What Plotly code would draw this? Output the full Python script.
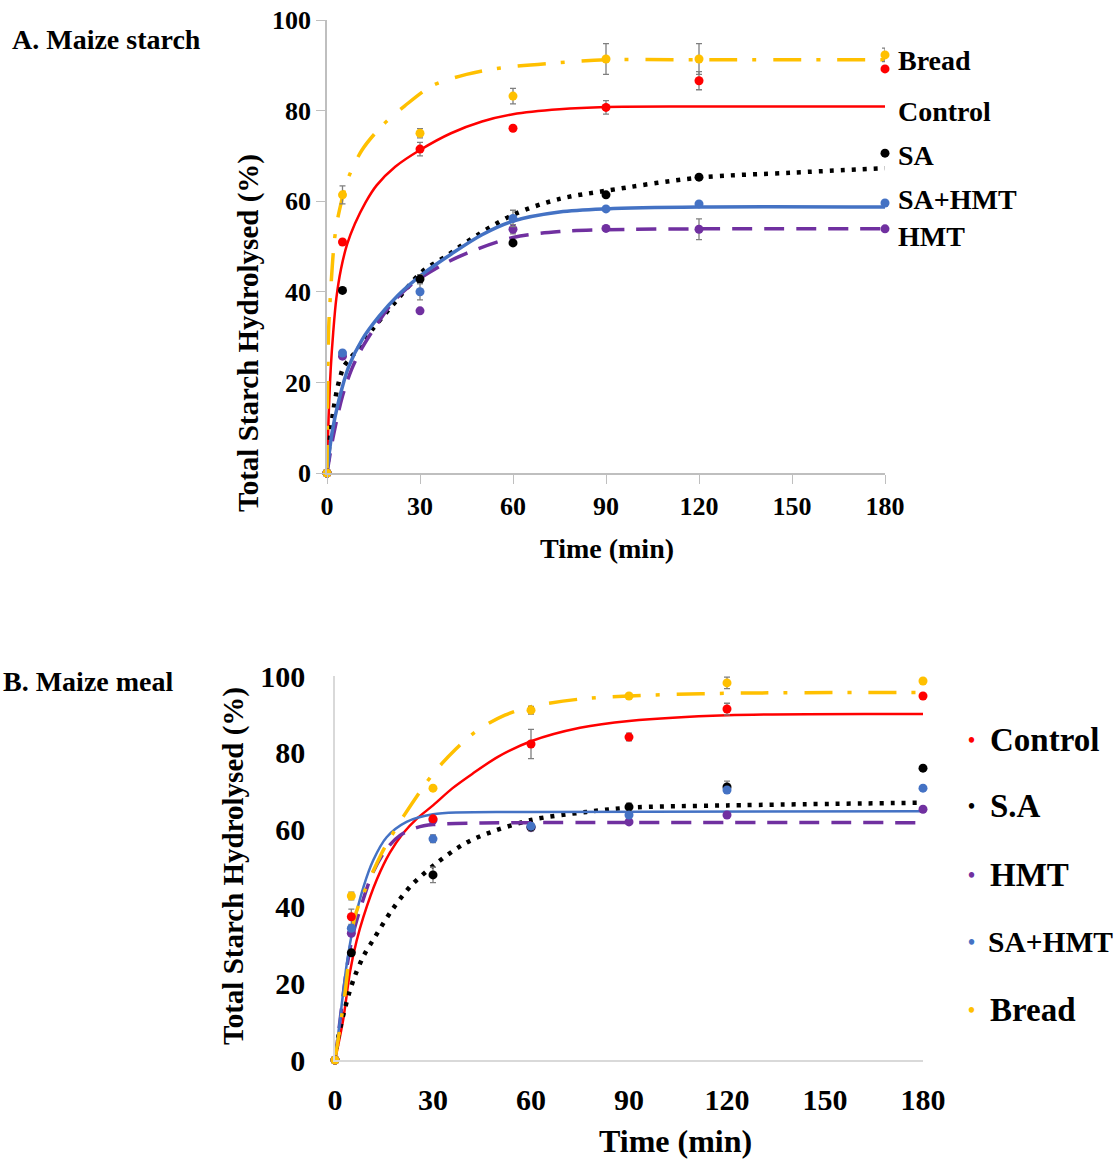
import plotly.graph_objects as go

# ---------------- data ----------------
times = [0, 5, 30, 60, 90, 120, 180]
series = ["Control", "SA", "HMT", "SA+HMT", "Bread"]
marker_order = ["HMT", "SA", "Control", "SA+HMT", "Bread"]
colors = {"Control": "#FF0000", "SA": "#000000", "HMT": "#7030A0",
          "SA+HMT": "#4472C4", "Bread": "#FFC000"}

# A. Maize starch - measured points and error bars
starch_control = [0, 51.0, 71.5, 76.1, 80.7, 86.6, 89.2]
starch_control_err = [0, 0, 1.5, 0, 1.5, 2.0, 0]
starch_sa = [0, 40.3, 42.8, 50.8, 61.4, 65.3, 70.6]
starch_sa_err = [0, 0, 1.0, 0, 0, 0, 0]
starch_hmt = [0, 25.8, 35.8, 53.8, 54.0, 53.8, 53.9]
starch_hmt_err = [0, 0, 0, 1.0, 0, 2.3, 0]
starch_sahmt = [0, 26.5, 40.0, 56.2, 58.3, 59.4, 59.6]
starch_sahmt_err = [0, 0, 1.8, 1.8, 0, 0, 0]
starch_bread = [0, 61.4, 75.0, 83.2, 91.4, 91.4, 92.3]
starch_bread_err = [0, 2.0, 1.0, 1.7, 3.4, 3.4, 1.5]

# A. Maize starch - fitted hydrolysis curves
starch_control_fit_t = [0, 0.5, 1.2, 2, 3, 4.5, 6.5, 9, 12.4, 16, 22, 30, 40, 50, 60, 75, 90, 120, 180]
starch_control_fit = [0, 12, 23, 31, 38.5, 45, 50.5, 55, 59.7, 63.5, 67.6, 71.3, 75, 77.6, 79.2, 80.3, 80.8, 80.9, 80.9]
starch_sa_fit_t = [0, 1.1, 2.1, 3.2, 4.3, 5.4, 7.5, 10, 14.5, 22.6, 30.6, 39, 45, 60, 75, 90, 120, 150, 180]
starch_sa_fit = [0, 8.8, 14, 18.3, 21.3, 23.5, 25.3, 27.5, 31.6, 38.2, 44.4, 48.1, 51, 57, 60.5, 62.3, 65.2, 66.3, 67.3]
starch_hmt_fit_t = [0, 2, 5, 8, 11.3, 15.6, 21, 27, 36, 45, 60, 75, 90, 120, 180]
starch_hmt_fit = [0, 8, 17, 23, 27.6, 32.3, 37.5, 41.5, 45.5, 48.5, 52, 53.3, 53.7, 53.9, 53.9]
starch_sahmt_fit_t = [0, 1.6, 3.8, 7, 11.3, 16.7, 23, 30.6, 40, 50, 60, 75, 90, 120, 180]
starch_sahmt_fit = [0, 8.8, 16, 23.5, 29.4, 34.5, 39.3, 43.8, 48.3, 52.6, 55.6, 57.6, 58.3, 58.7, 58.7]
starch_bread_fit_t = [0, 0.5, 1, 2.5, 4, 6.8, 11.3, 17.7, 25, 34, 45, 56, 77, 90, 120, 180]
starch_bread_fit = [0, 31, 38, 52, 58, 65, 71.3, 76.6, 81, 85.5, 88, 89.4, 90.7, 91.2, 91.2, 91.2]

# B. Maize meal - measured points and error bars
meal_control = [0, 37.3, 62.8, 82.3, 84.1, 91.4, 94.8]
meal_control_err = [0, 2.0, 0, 3.8, 1.0, 1.5, 0]
meal_sa = [0, 27.9, 48.2, 60.7, 65.9, 71.1, 76.0]
meal_sa_err = [0, 0, 2.0, 1.0, 1.0, 1.5, 0]
meal_hmt = [0, 33.0, 62.5, 60.5, 62.0, 63.8, 65.3]
meal_hmt_err = [0, 0, 0, 0, 0, 0, 0]
meal_sahmt = [0, 34.3, 57.6, 60.9, 63.8, 70.3, 70.8]
meal_sahmt_err = [0, 0, 1.0, 0, 0, 0, 0]
meal_bread = [0, 42.7, 70.8, 91.1, 94.8, 98.2, 98.7]
meal_bread_err = [0, 1.0, 0, 1.0, 0, 1.5, 0]

# B. Maize meal - fitted hydrolysis curves
meal_control_fit_t = [0, 2.5, 4.6, 6.6, 8.7, 12.8, 16.8, 20.8, 25, 30, 36, 42, 50, 60, 75, 90, 120, 180]
meal_control_fit = [0, 10.5, 23, 31, 37.3, 47, 54, 59, 62.8, 66.3, 70.8, 74.5, 79.0, 83.0, 86.5, 88.3, 89.8, 90.1]
meal_sa_fit_t = [0, 1, 4, 6, 8.7, 12.2, 17.4, 23.5, 31, 39, 45.4, 60, 77, 90, 120, 180]
meal_sa_fit = [0, 6, 16.5, 21.7, 27, 32, 39, 45.6, 51.2, 56, 58.6, 62.5, 64.6, 65.7, 66.3, 67]
meal_hmt_fit_t = [0, 1.5, 3.6, 5.6, 8.7, 11.7, 15.8, 19.9, 25, 30, 45, 180]
meal_hmt_fit = [0, 10, 24, 33, 42, 49, 55, 58.5, 60.5, 61.3, 61.7, 61.8]
meal_sahmt_fit_t = [0, 1.5, 3.6, 5.6, 8.7, 11.7, 15.8, 21.9, 30, 60, 180]
meal_sahmt_fit = [0, 10.4, 25, 34.7, 45, 52, 58, 62, 64, 64.6, 64.8]
meal_bread_fit_t = [0, 3, 6, 9.2, 13.8, 16, 21, 30, 37, 43.5, 52, 60, 75, 90, 120, 180]
meal_bread_fit = [0, 17, 37, 44.3, 53, 56.5, 63.5, 74.5, 81, 85.8, 89.8, 92, 94, 94.8, 95.5, 95.7]

x_ticks = [0, 30, 60, 90, 120, 150, 180]
y_ticks = [0, 20, 40, 60, 80, 100]

# ---------------- styles ----------------
SERIF = "Liberation Serif, Times New Roman, serif"
dash_styles = {"Control": "solid", "SA": "4px,7px", "HMT": "20px,12px",
               "SA+HMT": "solid", "Bread": "28px,15px,4px,17px"}
widths_a = {"Control": 2.5, "SA": 4.5, "HMT": 3.5, "SA+HMT": 3.5, "Bread": 3.5}
widths_b = {"Control": 2.5, "SA": 4.5, "HMT": 3.5, "SA+HMT": 2.5, "Bread": 3.5}

panels = [
    ("x", "y", widths_a, {
        "Control": (starch_control, starch_control_err, starch_control_fit_t, starch_control_fit),
        "SA": (starch_sa, starch_sa_err, starch_sa_fit_t, starch_sa_fit),
        "HMT": (starch_hmt, starch_hmt_err, starch_hmt_fit_t, starch_hmt_fit),
        "SA+HMT": (starch_sahmt, starch_sahmt_err, starch_sahmt_fit_t, starch_sahmt_fit),
        "Bread": (starch_bread, starch_bread_err, starch_bread_fit_t, starch_bread_fit),
    }),
    ("x2", "y2", widths_b, {
        "Control": (meal_control, meal_control_err, meal_control_fit_t, meal_control_fit),
        "SA": (meal_sa, meal_sa_err, meal_sa_fit_t, meal_sa_fit),
        "HMT": (meal_hmt, meal_hmt_err, meal_hmt_fit_t, meal_hmt_fit),
        "SA+HMT": (meal_sahmt, meal_sahmt_err, meal_sahmt_fit_t, meal_sahmt_fit),
        "Bread": (meal_bread, meal_bread_err, meal_bread_fit_t, meal_bread_fit),
    }),
]

fig = go.Figure()
for xa, ya, widths, data in panels:
    for name in series:
        vals, errs, ft, fv = data[name]
        fig.add_trace(go.Scatter(
            x=ft, y=fv, mode="lines", xaxis=xa, yaxis=ya, showlegend=False,
            line=dict(color=colors[name], width=widths[name], dash=dash_styles[name],
                      shape="spline", smoothing=0.9),
            cliponaxis=False, hoverinfo="skip"))
    for name in marker_order:
        vals, errs, ft, fv = data[name]
        fig.add_trace(go.Scatter(
            x=times, y=vals, mode="markers", xaxis=xa, yaxis=ya, showlegend=False,
            marker=dict(color=colors[name], size=9),
            error_y=dict(type="data", array=errs, visible=True,
                         color="#7F7F7F", thickness=1.3, width=3),
            cliponaxis=False, name=name))

tick_font_a = dict(family=SERIF, size=26, color="black", weight="bold")
tick_font_b = dict(family=SERIF, size=30, color="black", weight="bold")

fig.update_layout(
    template="none",
    width=1114, height=1161,
    margin=dict(l=0, r=0, t=0, b=0, pad=0, autoexpand=False),
    paper_bgcolor="white", plot_bgcolor="white",
    showlegend=False,
    xaxis=dict(domain=[327 / 1114, 885 / 1114], anchor="y", range=[0, 180],
               tickvals=x_ticks, ticks="outside", ticklen=9, tickcolor="#BFBFBF",
               tickwidth=1.3, showline=True, linecolor="#BFBFBF", linewidth=1.5,
               showgrid=False, zeroline=False, tickfont=tick_font_a, automargin=False),
    yaxis=dict(domain=[1 - 473 / 1161, 1 - 20 / 1161], anchor="x", range=[0, 100],
               tickvals=y_ticks, ticks="outside", ticklen=9, tickcolor="#BFBFBF",
               tickwidth=1.3, showline=True, linecolor="#BFBFBF", linewidth=1.5,
               showgrid=False, zeroline=False, tickfont=tick_font_a, automargin=False),
    xaxis2=dict(domain=[335 / 1114, 923 / 1114], anchor="y2", range=[0, 180],
                tickvals=x_ticks, ticks="outside", ticklen=12, tickcolor="rgba(0,0,0,0)",
                showline=True, linecolor="#D9D9D9", linewidth=1.5,
                showgrid=False, zeroline=False, tickfont=tick_font_b, automargin=False),
    yaxis2=dict(domain=[1 - 1060 / 1161, 1 - 676 / 1161], anchor="x2", range=[0, 100],
                tickvals=y_ticks, ticks="outside", ticklen=22, tickcolor="rgba(0,0,0,0)",
                showline=True, linecolor="#D9D9D9", linewidth=1.5,
                showgrid=False, zeroline=False, tickfont=tick_font_b, automargin=False),
)


def px_x(p):
    return p / 1114


def px_y(p):
    return 1 - p / 1161


def label(text, x, y, size, xanchor="left", angle=0, color="black"):
    fig.add_annotation(text=text, x=px_x(x), y=px_y(y), xref="paper", yref="paper",
                       xanchor=xanchor, yanchor="middle", showarrow=False,
                       textangle=angle,
                       font=dict(family=SERIF, size=size, color=color, weight="bold"))


# panel titles
label("A. Maize starch", 10, 40, 28)
label("B. Maize meal", 1, 681, 28)

# axis titles
label("Time (min)", 607, 548, 28, xanchor="center")
label("Total Starch Hydrolysed (%)", 248, 333, 29, xanchor="center", angle=-90)
label("Time (min)", 675, 1141, 32, xanchor="center")
label("Total Starch Hydrolysed (%)", 233, 866, 29, xanchor="center", angle=-90)

# series names beside panel A curves
side_names = [("Bread", 60), ("Control", 112), ("SA", 156), ("SA+HMT", 200), ("HMT", 236)]
for text, yy in side_names:
    label(text, 896, yy, 28)

# key for panel B
key_entries = [("Control", "Control", 740, 33), ("S.A", "SA", 806, 33),
               ("HMT", "HMT", 875, 33), ("SA+HMT", "SA+HMT", 942, 29.5),
               ("Bread", "Bread", 1010, 33)]
for text, key, yy, size in key_entries:
    label("•", 971, yy, 20, xanchor="center", color=colors[key])
    label(text, 986 if key == "SA+HMT" else 988, yy, size)

fig.write_html("out.html")
